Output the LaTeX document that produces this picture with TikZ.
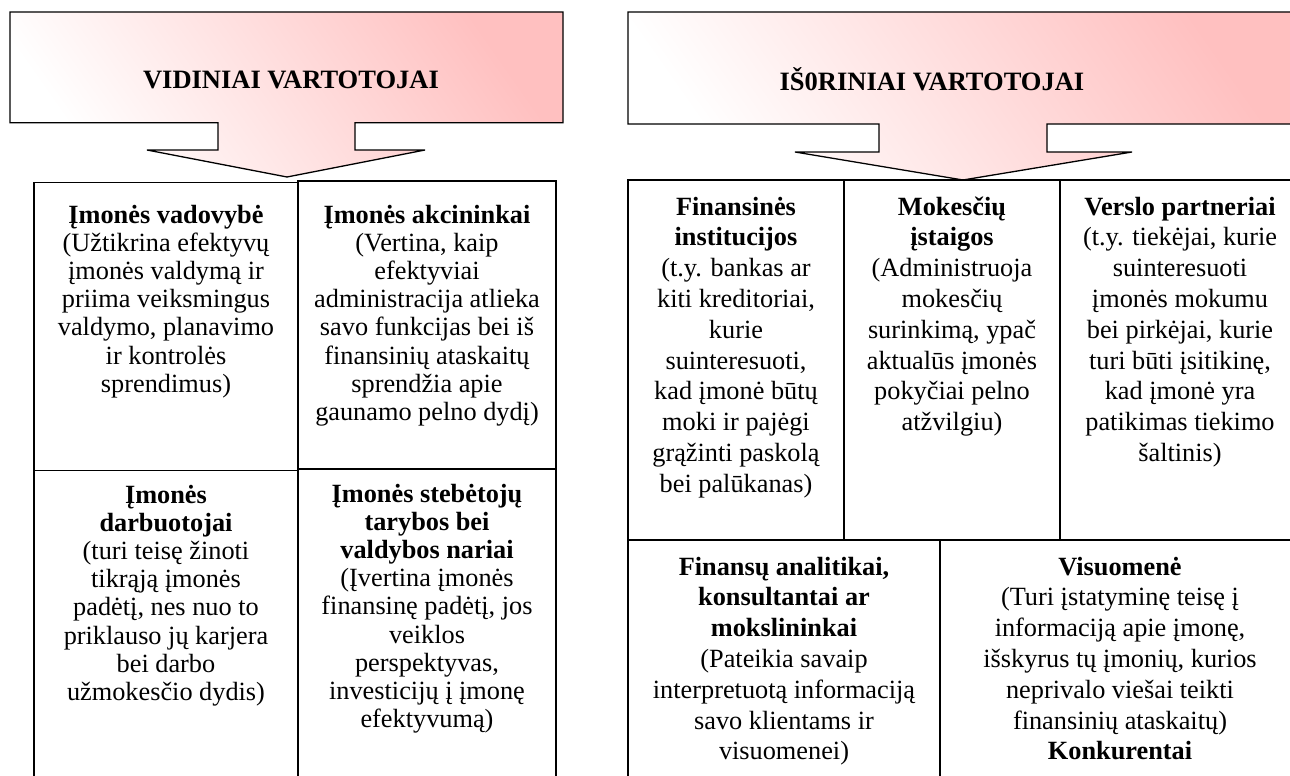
\documentclass[tikz,border=0pt]{standalone}
\usepackage{fontspec}
\setmainfont{Liberation Serif}
\definecolor{bannerpink}{RGB}{255,192,192}
\newcommand{\cellbox}[2]{\parbox[t]{#1pt}{\centering #2}}
\begin{document}
\begin{tikzpicture}[x=1pt,y=-1pt,
  rule/.style={line width=1.3pt, line join=miter},
  banner/.style={rule, draw=black, top color=bannerpink, bottom color=white, shading angle=-55},
  grid/.style={rule, draw=black},
  heading/.style={anchor=base, inner sep=0pt, font=\fontsize{26.5}{30.8}\selectfont\bfseries},
  celltext/.style={anchor=base, inner sep=0pt, font=\fontsize{26.3}{30.8}\selectfont},
  leftcell/.style={celltext, font=\fontsize{26.3}{28.2}\selectfont},
]
\useasboundingbox (0,0) rectangle (1290,776);
\clip (0,0) rectangle (1290,776);

% ---------- left banner arrow ----------
\path[banner] (10,12) -- (563,12) -- (563,122.7) -- (355,122.7) -- (355,150)
  -- (425,150) -- (287,177) -- (147,150) -- (218,150) -- (218,122.7)
  -- (10,122.7) -- cycle;
\node[heading] (inTitle) at (291,88.5) {VIDINIAI VARTOTOJAI};

% ---------- right banner arrow ----------
\path[banner] (628,12) -- (1300,12) -- (1300,124) -- (1047,124) -- (1047,152)
  -- (1132,152) -- (963,180) -- (795,152) -- (879,152) -- (879,124)
  -- (628,124) -- cycle;
\node[heading] (outTitle) at (932,90) {IŠ0RINIAI VARTOTOJAI};

% ---------- left table ----------
\draw[grid] (34,182.5) rectangle (298,470.5);
\draw[grid] (298,181) rectangle (556,469);
\draw[grid] (34,470.5) rectangle (298,800);
\draw[grid] (298,469) rectangle (556,800);

\node[leftcell] (mgmt) at (166,223) {\cellbox{255}{\textbf{Įmonės vadovybė}\\
  (Užtikrina efektyvų\\ įmonės valdymą ir\\ priima veiksmingus\\
  valdymo, planavimo\\ ir kontrolės\\ sprendimus)}};
\node[leftcell] (share) at (427,223) {\cellbox{250}{\textbf{Įmonės akcininkai}\\
  (Vertina, kaip\\ efektyviai\\ administracija atlieka\\ savo funkcijas bei iš\\
  finansinių ataskaitų\\ sprendžia apie\\ gaunamo pelno dydį)}};
\node[leftcell] (staff) at (166,503) {\cellbox{255}{\textbf{Įmonės}\\ \textbf{darbuotojai}\\
  (turi teisę žinoti\\ tikrąją įmonės\\ padėtį, nes nuo to\\ priklauso jų karjera\\
  bei darbo\\ užmokesčio dydis)}};
\node[leftcell] (board) at (427,502) {\cellbox{250}{\textbf{Įmonės stebėtojų}\\
  \textbf{tarybos bei}\\ \textbf{valdybos nariai}\\ (Įvertina įmonės\\
  finansinę padėtį, jos\\ veiklos\\ perspektyvas,\\ investicijų į įmonę\\ efektyvumą)}};

% ---------- right table ----------
\draw[grid] (628,180) rectangle (844,540);
\draw[grid] (844,180) rectangle (1060,540);
\draw[grid] (1060,180) rectangle (1300,540);
\draw[grid] (628,540) rectangle (940,800);
\draw[grid] (940,540) rectangle (1300,800);

\node[celltext] (banks) at (736,215) {\cellbox{210}{\textbf{Finansinės}\\ \textbf{institucijos}\\
  (t.y. bankas ar\\ kiti kreditoriai,\\ kurie\\ suinteresuoti,\\ kad įmonė būtų\\
  moki ir pajėgi\\ grąžinti paskolą\\ bei palūkanas)}};
\node[celltext] (tax) at (952,215) {\cellbox{210}{\textbf{Mokesčių}\\ \textbf{įstaigos}\\
  (Administruoja\\ mokesčių\\ surinkimą, ypač\\ aktualūs įmonės\\ pokyčiai pelno\\
  atžvilgiu)}};
\node[celltext] (partners) at (1180,215) {\cellbox{234}{\textbf{Verslo partneriai}\\
  (t.y. tiekėjai, kurie\\ suinteresuoti\\ įmonės mokumu\\ bei pirkėjai, kurie\\
  turi būti įsitikinę,\\ kad įmonė yra\\ patikimas tiekimo\\ šaltinis)}};
\node[celltext] (analysts) at (784,575) {\cellbox{305}{\textbf{Finansų analitikai,}\\
  \textbf{konsultantai ar}\\ \textbf{mokslininkai}\\ (Pateikia savaip\\
  interpretuotą informaciją\\ savo klientams ir\\ visuomenei)}};
\node[celltext] (public) at (1120,575) {\cellbox{354}{\textbf{Visuomenė}\\
  (Turi įstatyminę teisę į\\ informaciją apie įmonę,\\ išskyrus tų įmonių, kurios\\
  neprivalo viešai teikti\\ finansinių ataskaitų)\\ \textbf{Konkurentai}}};
\end{tikzpicture}
\end{document}
